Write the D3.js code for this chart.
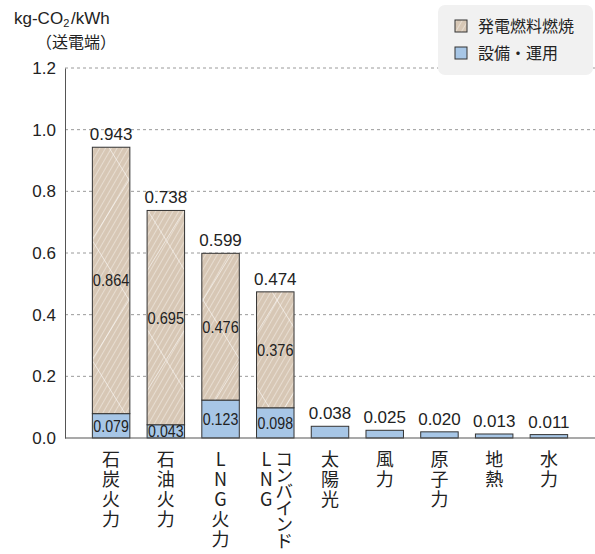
<!DOCTYPE html>
<html lang="ja">
<head>
<meta charset="UTF-8">
<script src="https://cdn.jsdelivr.net/npm/d3@7"></script>
<style>
  * { margin: 0; padding: 0; }
  body { background: #fff; font-family: "Liberation Sans", "Noto Sans CJK JP", sans-serif; }
  svg { display: block; }
  .jp { font-family: "Noto Sans CJK JP", sans-serif; }
  .cat { font-family: "Noto Sans CJK JP", sans-serif; font-feature-settings: "vpal"; }
</style>
</head>
<body>
<div id="chart"></div>
<script>
// data
var categories = ["石炭火力", "石油火力", "LNG火力", "コンバインド\nLNG", "太陽光", "風力", "原子力", "地熱", "水力"];
var opsValues  = [0.079, 0.043, 0.123, 0.098, 0.038, 0.025, 0.020, 0.013, 0.011];   // 設備・運用
var fuelValues = [0.864, 0.695, 0.476, 0.376, 0, 0, 0, 0, 0];                      // 発電燃料燃焼
var totals     = [0.943, 0.738, 0.599, 0.474, 0.038, 0.025, 0.020, 0.013, 0.011];
var yTicks = [0, 0.2, 0.4, 0.6, 0.8, 1.0, 1.2];
var legendLabels = ["発電燃料燃焼", "設備・運用"];

var w = 595, h = 554;
var axisX = 65, rightX = 595;

var fuelColor = "#d7c7b5", opsColor = "#a7c6e6";

var svg = d3.select("#chart").append("svg")
    .attr("width", w)
    .attr("height", h);

// hatch pattern for fuel
var defs = svg.append("defs");
var pat = defs.append("pattern")
    .attr("id", "hatch")
    .attr("patternUnits", "userSpaceOnUse")
    .attr("width", 5).attr("height", 5)
    .attr("patternTransform", "rotate(30)");
pat.append("rect").attr("width", 5).attr("height", 5).attr("fill", fuelColor);
pat.append("line").attr("x1", 0).attr("y1", 0).attr("x2", 0).attr("y2", 5)
    .attr("stroke", "#f3ece4").attr("stroke-width", 1.2);

var big = defs.append("pattern")
    .attr("id", "cross")
    .attr("patternUnits", "userSpaceOnUse")
    .attr("width", 74).attr("height", 120)
    .attr("x", 18);
big.append("line").attr("x1", 0).attr("y1", 0).attr("x2", 74).attr("y2", 120)
    .attr("stroke", "#ffffff").attr("stroke-width", 0.7).attr("opacity", 0.8);
big.append("line").attr("x1", 74).attr("y1", 0).attr("x2", 0).attr("y2", 120)
    .attr("stroke", "#ffffff").attr("stroke-width", 0.7).attr("opacity", 0.8);

// scales
var x = d3.scaleBand()
    .domain(d3.range(categories.length))
    .range([axisX, rightX])
    .paddingInner(0.315)
    .paddingOuter(0.5);

var y = d3.scaleLinear()
    .domain([0, 1.2])
    .range([438, 68]);

// grid lines
svg.append("g")
    .selectAll("line")
    .data(yTicks.slice(1))
    .enter()
    .append("line")
    .attr("x1", axisX).attr("x2", rightX)
    .attr("y1", function(d) { return y(d); })
    .attr("y2", function(d) { return y(d); })
    .attr("stroke", "#9a9a9a")
    .attr("stroke-dasharray", "3,3");

// y axis
var yAxis = d3.axisLeft(y)
    .tickValues(yTicks)
    .tickFormat(d3.format(".1f"))
    .tickSize(0)
    .tickPadding(9);

svg.append("g")
    .attr("transform", "translate(" + axisX + ",0)")
    .call(yAxis)
    .call(function(g) { g.select(".domain").attr("stroke", "#555"); })
    .selectAll("text")
    .attr("font-size", "17px")
    .attr("fill", "#222")
    .attr("font-family", "Liberation Sans, sans-serif");

// bars
var bars = svg.append("g");

bars.selectAll("rect.ops")
    .data(opsValues)
    .enter()
    .append("rect")
    .attr("class", "ops")
    .attr("x", function(d, i) { return x(i); })
    .attr("width", x.bandwidth())
    .attr("y", function(d) { return y(d); })
    .attr("height", function(d) { return y(0) - y(d); })
    .attr("fill", opsColor)
    .attr("stroke", "#333")
    .attr("stroke-width", 1);

var fuelData = fuelValues.map(function(v, i) { return { i: i, v: v, base: opsValues[i] }; })
    .filter(function(d) { return d.v > 0; });

var fuelG = bars.selectAll("g.fuel")
    .data(fuelData)
    .enter()
    .append("g")
    .attr("class", "fuel");

fuelG.append("rect")
    .attr("x", function(d) { return x(d.i); })
    .attr("width", x.bandwidth())
    .attr("y", function(d) { return y(d.base + d.v); })
    .attr("height", function(d) { return y(d.base) - y(d.base + d.v); })
    .attr("fill", "url(#hatch)");

fuelG.append("rect")
    .attr("x", function(d) { return x(d.i); })
    .attr("width", x.bandwidth())
    .attr("y", function(d) { return y(d.base + d.v); })
    .attr("height", function(d) { return y(d.base) - y(d.base + d.v); })
    .attr("fill", "url(#cross)")
    .attr("stroke", "#333")
    .attr("stroke-width", 1);

// baseline
svg.append("line")
    .attr("x1", axisX).attr("x2", rightX)
    .attr("y1", y(0)).attr("y2", y(0))
    .attr("stroke", "#555")
    .attr("stroke-width", 1.2);

// labels inside bars
fuelG.append("text")
    .attr("x", function(d) { return x(d.i) + x.bandwidth() / 2; })
    .attr("y", function(d) { return y(d.base + d.v / 2); })
    .attr("dy", "0.35em")
    .attr("text-anchor", "middle")
    .attr("font-size", "17px")
    .attr("textLength", x.bandwidth() - 1)
    .attr("lengthAdjust", "spacingAndGlyphs")
    .attr("fill", "#222")
    .text(function(d) { return d3.format(".3f")(d.v); });

bars.selectAll("text.ops")
    .data(fuelData)
    .enter()
    .append("text")
    .attr("class", "ops")
    .attr("x", function(d) { return x(d.i) + x.bandwidth() / 2; })
    .attr("y", function(d) { return y(d.base / 2); })
    .attr("dy", "0.36em")
    .attr("text-anchor", "middle")
    .attr("font-size", "17px")
    .attr("textLength", x.bandwidth() - 2)
    .attr("lengthAdjust", "spacingAndGlyphs")
    .attr("fill", "#222")
    .text(function(d) { return d3.format(".3f")(d.base); });

// totals above bars
bars.selectAll("text.total")
    .data(totals)
    .enter()
    .append("text")
    .attr("class", "total")
    .attr("x", function(d, i) { return x(i) + x.bandwidth() / 2; })
    .attr("y", function(d) { return y(d) - 7; })
    .attr("text-anchor", "middle")
    .attr("font-size", "17px")
    .attr("fill", "#222")
    .text(function(d) { return d3.format(".3f")(d); });

// category labels (vertical)
var catG = svg.append("g");
categories.forEach(function(c, i) {
    var lines = c.split("\n");
    var cx = x(i) + x.bandwidth() / 2;
    lines.forEach(function(line, j) {
        var off = (lines.length - 1) * 9 - j * 18;
        var kana = /[\u30A0-\u30FF]/.test(line);
        catG.append("text")
            .attr("class", "cat")
            .attr("x", cx + off)
            .attr("y", 450)
            .attr("font-size", "18px")
            .attr("letter-spacing", kana ? "0px" : "2px")
            .attr("fill", "#222")
            .style("writing-mode", "vertical-rl")
            .style("text-orientation", "upright")
            .text(line);
    });
});

// y title
svg.append("text")
    .attr("x", 14).attr("y", 24)
    .attr("font-size", "17px")
    .attr("fill", "#222")
    .text("kg-CO")
    .append("tspan")
    .attr("font-size", "11px")
    .attr("dy", 3)
    .text("2");
svg.append("text")
    .attr("x", 71).attr("y", 24)
    .attr("font-size", "17px")
    .attr("fill", "#222")
    .text("/kWh");
svg.append("text")
    .attr("class", "jp")
    .attr("x", 76).attr("y", 48)
    .attr("text-anchor", "middle")
    .attr("font-size", "16px")
    .attr("fill", "#222")
    .text("（送電端）");

// legend
var lg = svg.append("g");
lg.append("rect")
    .attr("x", 438).attr("y", 5)
    .attr("width", 155).attr("height", 70)
    .attr("rx", 7)
    .attr("fill", "#f1f1f1");

var legFills = ["url(#hatch)", opsColor];
legendLabels.forEach(function(t, i) {
    var ly = 20 + i * 27;
    lg.append("rect")
        .attr("x", 455).attr("y", ly)
        .attr("width", 12).attr("height", 12)
        .attr("fill", legFills[i])
        .attr("stroke", "#333")
        .attr("stroke-width", 1);
    lg.append("text")
        .attr("class", "jp")
        .attr("x", 478).attr("y", ly + 6)
        .attr("dy", "0.36em")
        .attr("font-size", "16px")
        .attr("fill", "#222")
        .text(t);
});
</script>
</body>
</html>
